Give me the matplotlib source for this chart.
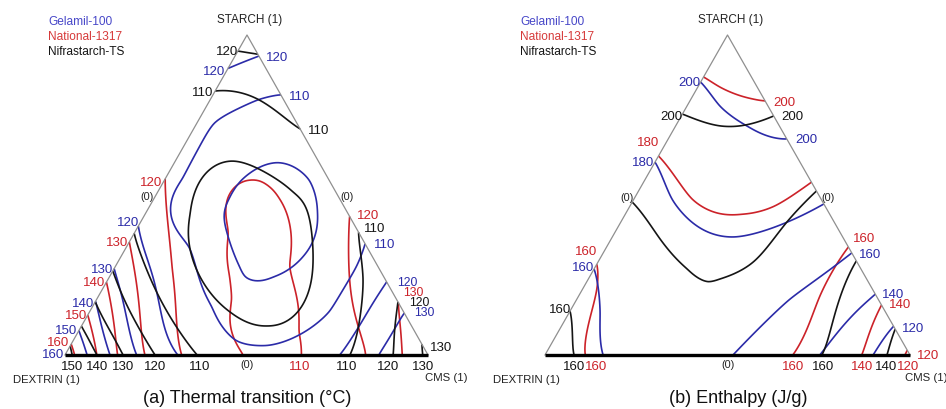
import numpy as np
import matplotlib
matplotlib.use("Agg")
import matplotlib.pyplot as plt
import matplotlib.tri as mtri

plt.rcParams['font.family'] = ['Liberation Sans', 'DejaVu Sans']

# compositions: (starch, cms, response); dextrin = 1 - starch - cms
# (a) thermal transition, degC
a_gelamil = [(1.00, 0.00, 126), (0.894, 0.00, 120), (0.934, 0.066, 120),
             (0.816, 0.184, 110), (0.80, 0.132, 110), (0.728, 0.044, 110),
             (0.55, 0.05, 110), (0.34, 0.175, 110), (0.153, 0.33, 110),
             (0.041, 0.45, 110), (0.028, 0.542, 110), (0.134, 0.663, 110),
             (0.278, 0.665, 110), (0.347, 0.653, 110), (0.65, 0.00, 113),
             (0.58, 0.42, 104),
             (0.603, 0.283, 100), (0.544, 0.21, 100), (0.4875, 0.21, 100),
             (0.384, 0.254, 100), (0.278, 0.343, 100), (0.238, 0.371, 100),
             (0.247, 0.45, 100), (0.309, 0.501, 100), (0.447, 0.47, 100),
             (0.55, 0.40, 100), (0.40, 0.36, 94),
             (0.13, 0.47, 105), (0.45, 0.11, 105), (0.20, 0.57, 105),
             (0.64, 0.13, 106), (0.71, 0.22, 106),
             (0.25, 0.18, 115), (0.10, 0.29, 115),
             (0.00, 0.42, 115), (0.00, 0.54, 112), (0.00, 0.65, 114),
             (0.403, 0.00, 120), (0.00, 0.309, 120), (0.269, 0.00, 130),
             (0.00, 0.196, 130), (0.169, 0.00, 140), (0.00, 0.124, 140),
             (0.075, 0.00, 150), (0.00, 0.06, 150), (0.00, 0.00, 161),
             (0.00, 0.758, 120), (0.228, 0.772, 120), (0.00, 0.862, 130),
             (0.134, 0.866, 130), (0.00, 1.00, 137)]
a_national = [(1.00, 0.00, 114), (0.80, 0.00, 116), (0.70, 0.30, 114),
              (0.70, 0.15, 113), (0.65, 0.25, 112), (0.55, 0.00, 120),
              (0.269, 0.16, 120), (0.00, 0.32, 120), (0.353, 0.00, 130),
              (0.00, 0.22, 130), (0.228, 0.00, 140), (0.00, 0.143, 140),
              (0.125, 0.00, 150), (0.00, 0.088, 150), (0.034, 0.00, 160),
              (0.00, 0.03, 160), (0.00, 0.00, 163),
              (0.00, 0.50, 110), (0.1125, 0.398, 110), (0.175, 0.375, 110),
              (0.247, 0.331, 110), (0.384, 0.263, 110), (0.4875, 0.2025, 110),
              (0.544, 0.238, 110), (0.528, 0.2925, 110), (0.4875, 0.345, 110),
              (0.278, 0.473, 110), (0.072, 0.603, 110), (0.00, 0.647, 110),
              (0.30, 0.39, 105), (0.10, 0.50, 104), (0.00, 0.575, 104),
              (0.45, 0.28, 107), (0.26, 0.24, 115), (0.275, 0.57, 115),
              (0.434, 0.566, 120), (0.00, 0.832, 120), (0.166, 0.834, 130),
              (0.00, 0.928, 130), (0.00, 1.00, 136)]
a_nifra = [(1.00, 0.00, 126), (0.95, 0.00, 120), (0.94, 0.06, 120),
           (0.825, 0.00, 110), (0.80, 0.129, 110), (0.706, 0.294, 110),
           (0.60, 0.00, 104), (0.55, 0.45, 104), (0.44, 0.124, 100),
           (0.606, 0.16, 100), (0.509, 0.373, 100), (0.30, 0.533, 100),
           (0.091, 0.511, 100), (0.134, 0.388, 100), (0.33, 0.358, 94),
           (0.38, 0.00, 110), (0.00, 0.364, 110), (0.2625, 0.00, 120),
           (0.00, 0.248, 120), (0.166, 0.00, 130), (0.00, 0.16, 130),
           (0.09, 0.00, 140), (0.00, 0.088, 140), (0.028, 0.00, 150),
           (0.00, 0.019, 150), (0.00, 0.00, 154), (0.384, 0.616, 110),
           (0.00, 0.785, 110), (0.2375, 0.702, 110), (0.166, 0.834, 120),
           (0.00, 0.904, 120), (0.034, 0.966, 130), (0.00, 0.986, 130),
           (0.00, 1.00, 132), (0.00, 0.55, 103)]

# (b) enthalpy, J/g
b_gelamil = [(1.00, 0.00, 215), (0.853, 0.00, 200), (0.778, 0.09, 200),
             (0.716, 0.195, 200), (0.675, 0.325, 200), (0.603, 0.00, 180),
             (0.4875, 0.104, 180), (0.384, 0.255, 180), (0.369, 0.336, 180),
             (0.40, 0.43, 180), (0.472, 0.528, 180), (0.269, 0.00, 160),
             (0.134, 0.084, 160), (0.00, 0.159, 160), (0.319, 0.681, 160),
             (0.175, 0.584, 160), (0.00, 0.515, 160), (0.19, 0.81, 140),
             (0.00, 0.753, 140), (0.09, 0.91, 120), (0.00, 0.899, 120),
             (0.00, 1.00, 105), (0.00, 0.00, 148), (0.15, 0.35, 170),
             (0.00, 0.35, 168)]
b_national = [(1.00, 0.00, 212), (0.869, 0.00, 200), (0.8375, 0.06, 200),
              (0.80, 0.17, 200), (0.794, 0.206, 200), (0.622, 0.00, 180),
              (0.4875, 0.159, 180), (0.44, 0.32, 180), (0.466, 0.397, 180),
              (0.54, 0.46, 180), (0.284, 0.00, 160), (0.206, 0.039, 160),
              (0.00, 0.11, 160), (0.3375, 0.6625, 160), (0.184, 0.661, 160),
              (0.00, 0.679, 160), (0.156, 0.844, 140), (0.00, 0.868, 140),
              (0.00, 0.986, 120), (0.00, 1.00, 118), (0.00, 0.00, 150),
              (0.15, 0.35, 172), (0.00, 0.40, 168)]
b_nifra = [(1.00, 0.00, 218), (0.753, 0.00, 200), (0.716, 0.121, 200),
           (0.716, 0.176, 200), (0.747, 0.253, 200), (0.478, 0.00, 180),
           (0.3625, 0.134, 180), (0.269, 0.255, 180), (0.228, 0.333, 180),
           (0.2375, 0.36, 180), (0.29, 0.425, 180), (0.416, 0.455, 180),
           (0.5125, 0.4875, 180), (0.1375, 0.00, 160), (0.00, 0.079, 160),
           (0.294, 0.706, 160), (0.00, 0.759, 160), (0.081, 0.919, 140),
           (0.00, 0.937, 140), (0.00, 1.00, 133), (0.00, 0.00, 152),
           (0.00, 0.40, 168), (0.10, 0.40, 170)]

a_levels = [100, 110, 120, 130, 140, 150, 160]
b_levels = [120, 140, 160, 180, 200]

BLUE = '#2b2ba8'
RED = '#cc2229'
BLACK = '#151515'
GREY = '#8f8f8f'

SQ = np.sqrt(3) / 2


def tps_surface(data, lam):
    d = np.array(data, dtype=float)
    u = d[:, 1] + d[:, 0] / 2
    v = d[:, 0] * SQ
    z = d[:, 2]
    n = len(z)

    def kern(r):
        out = np.zeros_like(r)
        m = r > 0
        out[m] = r[m] ** 2 * np.log(r[m])
        return out

    r = np.hypot(u[:, None] - u[None], v[:, None] - v[None])
    A = np.zeros((n + 3, n + 3))
    A[:n, :n] = kern(r) + lam * np.eye(n)
    P = np.column_stack([np.ones(n), u, v])
    A[:n, n:] = P
    A[n:, :n] = P.T
    sol = np.linalg.solve(A, np.concatenate([z, np.zeros(3)]))
    w, a = sol[:n], sol[n:]

    def f(s, c):
        uq = c + s / 2
        vq = s * SQ
        rq = np.hypot(uq[:, None] - u[None], vq[:, None] - v[None])
        return kern(rq) @ w + a[0] + a[1] * uq + a[2] * vq
    return f


# barycentric lattice over the simplex
N = 150
idx = {}
ls, lc = [], []
for i in range(N + 1):
    for j in range(N + 1 - i):
        idx[(i, j)] = len(ls)
        ls.append(i / N)
        lc.append(j / N)
ls = np.array(ls)
lc = np.array(lc)
tris = []
for i in range(N):
    for j in range(N - i):
        tris.append([idx[(i, j)], idx[(i + 1, j)], idx[(i, j + 1)]])
        if i + j < N - 1:
            tris.append([idx[(i + 1, j)], idx[(i + 1, j + 1)], idx[(i, j + 1)]])


def to_px(s, c, verts):
    s = np.asarray(s, dtype=float)
    c = np.asarray(c, dtype=float)
    dx = 1 - s - c
    x = dx * verts['D'][0] + c * verts['C'][0] + s * verts['S'][0]
    y = dx * verts['D'][1] + c * verts['C'][1] + s * verts['S'][1]
    return x, y


fig = plt.figure(figsize=(9.46, 4.10), dpi=100)
ax = fig.add_axes([0, 0, 1, 1])
ax.set_xlim(0, 946)
ax.set_ylim(410, 0)
ax.axis('off')

panels = [
    dict(verts=dict(D=(65, 356), C=(428, 356), S=(247, 36)),
         series=[(a_national, RED, 2e-3), (a_gelamil, BLUE, 2e-3), (a_nifra, BLACK, 2e-4)],
         levels=a_levels, legend_x=48,
         title='(a) Thermal transition (°C)', title_x=247, top_x=250,
         dex_x=46, cms_x=446),
    dict(verts=dict(D=(545, 356), C=(910, 356), S=(727.5, 36)),
         series=[(b_national, RED, 2e-4), (b_gelamil, BLUE, 2e-4), (b_nifra, BLACK, 2e-4)],
         levels=b_levels, legend_x=520,
         title='(b) Enthalpy (J/g)', title_x=738, top_x=731,
         dex_x=526, cms_x=926),
]

for p in panels:
    vt = p['verts']
    px, py = to_px(ls, lc, vt)
    tri = mtri.Triangulation(px, py, tris)
    for data, col, lam in p['series']:
        z = tps_surface(data, lam)(ls, lc)
        ax.tricontour(tri, z, levels=p['levels'], colors=[col], linewidths=1.2)
    D, C, S = vt['D'], vt['C'], vt['S']
    ax.plot([D[0], S[0], C[0]], [D[1], S[1], C[1]], color=GREY, lw=0.9)
    ax.plot([D[0], C[0]], [D[1], C[1]], color='black', lw=2.4, solid_capstyle='butt')

    for k, (name, col) in enumerate([('Gelamil-100', '#4747c8'),
                                     ('National-1317', '#d63a3a'),
                                     ('Nifrastarch-TS', BLACK)]):
        ax.text(p['legend_x'], 22 + 15 * k, name, color=col, fontsize=8.6,
                ha='left', va='center')
    ax.text(p['top_x'], 20, 'STARCH (1)', fontsize=8.5, ha='center', va='center', color='#222222')
    ax.text(p['dex_x'], 380, 'DEXTRIN (1)', fontsize=8.2, ha='center', va='center', color='#222222')
    ax.text(p['cms_x'], 378, 'CMS (1)', fontsize=8.2, ha='center', va='center', color='#222222')
    ax.text(p['title_x'], 399, p['title'], fontsize=13, ha='center', va='center', color='#111111')

# contour labels: (text, colour, x, y) in pixels
K, B, R = BLACK, BLUE, RED
labels = [
    ('120', K, 227, 52), ('120', B, 277, 58), ('120', B, 214, 72), ('110', K, 203, 93),
    ('110', B, 300, 97), ('110', K, 319, 131),
    ('120', R, 151, 183), ('120', B, 128, 223), ('130', R, 117, 243), ('130', B, 102, 270),
    ('140', R, 94, 283), ('140', B, 83, 304), ('150', R, 76, 316), ('150', B, 66, 331),
    ('160', R, 58, 343), ('160', B, 53, 355),
    ('120', R, 368, 216), ('110', K, 375, 229), ('110', B, 385, 245),
    ('130', K, 441, 348),
    ('150', K, 72, 367), ('140', K, 97, 367), ('130', K, 123, 367), ('120', K, 155, 367),
    ('110', K, 200, 367), ('110', R, 300, 367), ('110', K, 347, 367), ('120', K, 388, 367),
    ('130', K, 423, 367),
    ('200', B, 689, 83), ('200', R, 784, 103), ('200', K, 671, 117), ('200', K, 792, 117),
    ('200', B, 806, 140), ('180', R, 648, 143), ('180', B, 643, 163),
    ('160', R, 586, 252), ('160', B, 583, 268), ('160', K, 560, 310),
    ('160', R, 864, 239), ('160', B, 870, 255), ('140', B, 893, 295), ('140', R, 900, 305),
    ('120', B, 913, 329), ('120', R, 928, 356),
    ('160', K, 574, 367), ('160', R, 596, 367), ('160', R, 793, 367), ('160', K, 823, 367),
    ('140', R, 862, 367), ('140', K, 886, 367), ('120', R, 908, 367),
]
for txt, col, x, y in labels:
    ax.text(x, y, txt, color=col, fontsize=9.5, ha='center', va='center')

# the crowded group on the right edge of (a) overlaps in the original too; set it a little smaller
crowd = [('120', B, 407, 283), ('130', R, 413, 293), ('120', K, 419, 303), ('130', B, 424, 313)]
for txt, col, x, y in crowd:
    ax.text(x, y, txt, color=col, fontsize=8.8, ha='center', va='center')

zero_marks = [(147, 197), (347, 197), (247, 365), (627, 198), (828, 198), (728, 365)]
for x, y in zero_marks:
    ax.text(x, y, '(0)', color='#222222', fontsize=7.8, ha='center', va='center')

fig.savefig('out.png', dpi=100)
